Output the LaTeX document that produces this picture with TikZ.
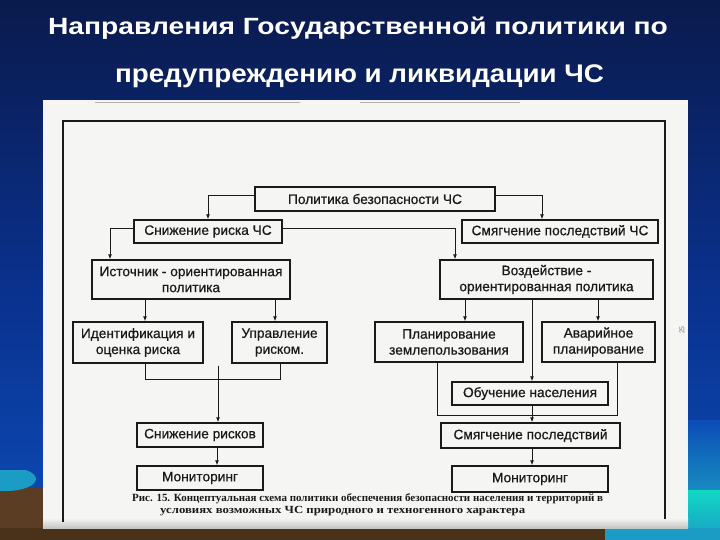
\documentclass[tikz,border=0pt]{standalone}
\usepackage{fontspec}
\setmainfont{Liberation Sans}
\newfontfamily\capfont{Liberation Serif}
\newfontfamily\boxfont[FakeBold=0.6]{Liberation Sans}
\usetikzlibrary{arrows.meta,calc}
\definecolor{ink}{HTML}{1A1A1A}
\definecolor{paper}{HTML}{F5F5F3}
\definecolor{bgtop}{HTML}{0A1A4C}
\definecolor{bgmid}{HTML}{0A3290}
\definecolor{bgbot}{HTML}{0C4CB6}
\definecolor{brownA}{HTML}{5A3D22}
\definecolor{brownB}{HTML}{4A3119}
\definecolor{cyanA}{HTML}{12D8C6}
\definecolor{tealA}{HTML}{1A9CC4}
\begin{document}
\begin{tikzpicture}[x=1pt,y=-1pt,
  box/.style={draw=ink, line width=1.4pt, fill=paper, inner sep=0pt, align=center,
    font=\boxfont\fontsize{13.7}{16}\selectfont, text=ink},
  conn/.style={draw=ink, line width=0.9pt},
  arr/.style={conn, -{Latex[length=5pt,width=4pt]}},
  title/.style={text=white, anchor=base, inner sep=0pt}]
\useasboundingbox (0,0) rectangle (720,540);
% background
\shade[top color=bgtop, bottom color=bgmid] (0,0) rectangle (720,300);
\shade[top color=bgmid, bottom color=bgbot] (0,300) rectangle (720,540);
\shade[top color=bgbot, bottom color=tealA!80!bgbot] (688,420) rectangle (720,490);
\shade[top color=cyanA, bottom color=tealA] (688,490) rectangle (720,540);
\fill[brownA] (0,488) rectangle (43,540);
\begin{scope}
  \clip (0,470) rectangle (43,500);
  \fill[tealA] (6,479) ellipse [x radius=30pt, y radius=12pt];
\end{scope}
\fill[brownB] (0,528) rectangle (605,540);
\fill[tealA] (605,528) rectangle (720,540);
% title
\node[title, font=\bfseries\fontsize{23.5}{28}\selectfont] (t1) at (358,34.3)
  {\scalebox{1.2}[1]{Направления Государственной политики по}};
\node[title, font=\bfseries\fontsize{25.5}{30}\selectfont] (t2) at (359.5,82.3)
  {\scalebox{1.09}[1]{предупреждению и ликвидации ЧС}};
% scanned page
\fill[paper] (43,100) rectangle (688,528);
\shade[top color=paper, bottom color=gray!45] (43,518) rectangle (688,528);
\draw[gray!60, line width=0.6pt] (95,102) -- (300,102);
\draw[gray!60, line width=0.6pt] (360,102) -- (520,102);
\draw[ink, line width=1.1pt] (63,522) -- (63,121) -- (665,121) -- (665,519);
\node[rotate=90, font=\fontsize{7}{8}\selectfont, text=gray] (pg) at (682,330) {25};
% boxes
\node[box, minimum width=240pt, minimum height=24pt] (pol) at (375,199) {Политика безопасности ЧС};
\node[box, minimum width=148pt, minimum height=23pt] (snr) at (208,231.5) {Снижение риска ЧС};
\node[box, minimum width=196pt, minimum height=23pt] (smg) at (560,231.5) {Смягчение последствий ЧС};
\node[box, minimum width=198pt, minimum height=39pt] (ist) at (191,279.5) {Источник - ориентированная\\политика};
\node[box, minimum width=213pt, minimum height=39pt] (voz) at (546.5,279.5) {Воздействие -\\ориентированная политика};
\node[box, minimum width=130pt, minimum height=41pt] (idn) at (138,342.5) {Идентификация и\\оценка риска};
\node[box, minimum width=95pt, minimum height=41pt] (upr) at (279.5,342.5) {Управление\\риском.};
\node[box, minimum width=148pt, minimum height=40pt] (pln) at (449,342) {Планирование\\землепользования};
\node[box, minimum width=113pt, minimum height=40pt] (avr) at (598.5,342) {Аварийное\\планирование};
\node[box, minimum width=156pt, minimum height=23pt] (obu) at (530,393.5) {Обучение населения};
\node[box, minimum width=126pt, minimum height=24pt] (snrk) at (200,435) {Снижение рисков};
\node[box, minimum width=179pt, minimum height=25pt] (smp) at (530.5,435.5) {Смягчение последствий};
\node[box, minimum width=126pt, minimum height=24pt] (mon1) at (200,478) {Мониторинг};
\node[box, minimum width=156pt, minimum height=26pt] (mon2) at (530,479) {Мониторинг};
% connectors
\draw[arr] ($(pol.west)+(0,-4)$) -| (snr.north);
\draw[arr] ($(pol.east)+(0,-4)$) -| ($(smg.north)+(-18,0)$);
\draw[arr] ($(snr.west)+(0,-3.5)$) -| ($(ist.north)+(-81,0)$);
\draw[arr] ($(snr.east)+(0,-3.5)$) -| ($(voz.north)+(-91.5,0)$);
\draw[arr] ($(ist.south)+(-46,0)$) coordinate (a5) -- (a5 |- idn.north);
\draw[arr] ($(ist.south)+(84,0)$) coordinate (a6) -- (a6 |- upr.north);
\draw[arr] ($(voz.south)+(-81.5,0)$) coordinate (a7) -- (a7 |- pln.north);
\draw[arr] ($(voz.south)+(51.5,0)$) coordinate (a8) -- (a8 |- avr.north);
\draw[arr] ($(voz.south)+(-14.5,0)$) coordinate (a9) -- (a9 |- obu.north);
\draw[conn] ($(idn.south)+(7,0)$) |- ($(upr.south)+(0.5,16)$) -- ($(upr.south)+(0.5,0)$);
\draw[arr] ($(idn.south)+(80,2)$) coordinate (a11) -- (a11 |- snrk.north);
\draw[conn] ($(pln.south)+(-12,0)$) |- ($(avr.south)+(18.5,53)$) -- ($(avr.south)+(18.5,0)$);
\draw[arr] ($(obu.south)+(2,0)$) coordinate (a13) -- (a13 |- smp.north);
\draw[arr] ($(snrk.south)+(17,0)$) coordinate (a14) -- (a14 |- mon1.north);
\draw[arr] ($(smp.south)+(1.5,0)$) coordinate (a15) -- (a15 |- mon2.north);
% caption
\node[anchor=base west, inner sep=0pt, text=ink, font=\capfont\bfseries\fontsize{11}{12}\selectfont] (cap1) at (132,501)
  {\resizebox{471pt}{!}{Рис. 15. Концептуальная схема политики обеспечения безопасности населения и территорий в}};
\node[anchor=base west, inner sep=0pt, text=ink, font=\capfont\bfseries\fontsize{11}{12}\selectfont] (cap2) at (160,513)
  {\resizebox{365pt}{7.2pt}{условиях возможных ЧС природного и техногенного характера}};
\end{tikzpicture}
\end{document}
